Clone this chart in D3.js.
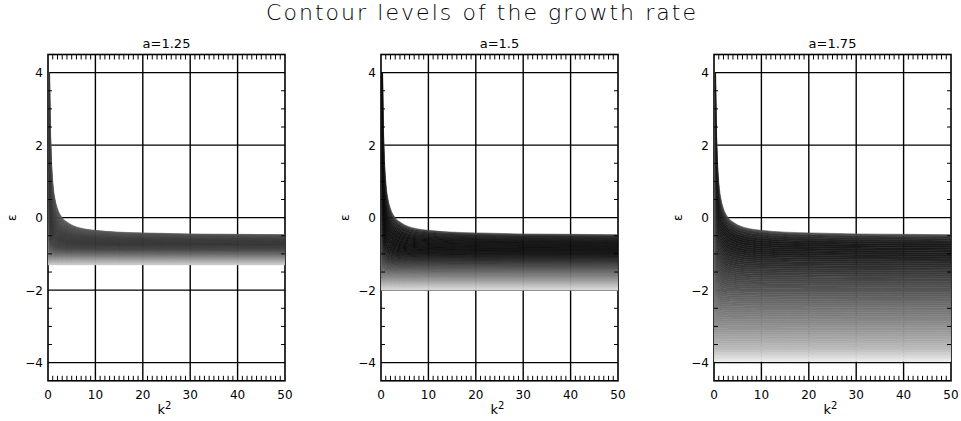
<!DOCTYPE html>
<html><head><meta charset="utf-8">
<script src="https://cdn.jsdelivr.net/npm/d3@7"></script>
<style>
html,body{margin:0;padding:0;background:#fff;}
text{font-family:"DejaVu Sans","Noto Sans",sans-serif;fill:#000;}
</style></head>
<body>
<script>
// ---- data ----
const chartTitle = "Contour levels of the growth rate";
const panelTitles = ["a=1.25", "a=1.5", "a=1.75"];
// upper boundary of the unstable region (epsilon vs k^2), same in all panels
const k2 = [0, 0.2, 0.3, 0.4, 0.5, 0.6, 0.8, 1, 1.5, 2, 3, 4, 5, 7, 10, 15, 20, 30, 40, 50];
const epsTop = [20, 7, 4.6, 3.4, 2.6, 2.1, 1.4, 1.0, 0.5, 0.25, 0.0, -0.12, -0.2, -0.29, -0.35, -0.4, -0.42, -0.45, -0.46, -0.47];
// lower boundary per panel
const epsBottom = [-1.3, -2.0, -3.97];
// grey level profiles across the band (at large k^2)
const profEps1 = [-0.45, -0.50, -0.62, -0.75, -0.89, -1.03, -1.17, -1.30];
const profGray1 = [112, 82, 62, 56, 72, 112, 160, 205];
const profEps2 = [-0.45, -0.53, -0.67, -0.89, -1.03, -1.22, -1.44, -1.72, -2.0];
const profGray2 = [100, 42, 20, 17, 22, 50, 92, 150, 220];
const profEps3 = [-0.45, -0.56, -0.75, -1.03, -1.44, -2.0, -2.55, -3.1, -3.65, -3.97];
const profGray3 = [100, 48, 26, 30, 54, 86, 118, 150, 190, 236];
const profiles = [[profEps1, profGray1], [profEps2, profGray2], [profEps3, profGray3]];
// axes
const xTicks = [0, 10, 20, 30, 40, 50];
const yTicks = [-4, -2, 0, 2, 4];
const yLabel = "ε";

// ---- layout ----
const W = 961, H = 421;
const panelLeft = [48, 381, 714];
const panelW = 237;
const plotTop = 54.5, plotBottom = 380.8;

const svg = d3.select("body").append("svg").attr("width", W).attr("height", H);
svg.append("rect").attr("width", W).attr("height", H).attr("fill", "#fff");

svg.append("text").attr("x", 481).attr("y", 20).attr("text-anchor", "middle")
  .attr("font-size", 22).attr("font-weight", 200)
  .attr("textLength", 430).attr("lengthAdjust", "spacing")
  .text(chartTitle);

const NB = 70;
const topEnd = epsTop[epsTop.length - 1];

panelTitles.forEach((pt, p) => {
  const x = d3.scaleLinear().domain([0, 50]).range([panelLeft[p], panelLeft[p] + panelW]);
  const y = d3.scaleLinear().domain([-4.5, 4.5]).range([plotBottom, plotTop]);
  const g = svg.append("g");
  const bot = epsBottom[p];
  const grayScale = d3.scaleLinear().domain(profiles[p][0]).range(profiles[p][1]).clamp(true);

  // grid lines
  g.selectAll(".vg").data(xTicks.slice(1, -1)).join("line")
    .attr("x1", d => x(d)).attr("x2", d => x(d)).attr("y1", plotTop).attr("y2", plotBottom)
    .attr("stroke", "#000").attr("stroke-width", 1.4);
  g.selectAll(".hg").data(yTicks).join("line")
    .attr("x1", x(0)).attr("x2", x(50)).attr("y1", d => y(d)).attr("y2", d => y(d))
    .attr("stroke", "#000").attr("stroke-width", 1.4);

  // frame
  g.append("rect").attr("x", x(0)).attr("y", plotTop).attr("width", panelW).attr("height", plotBottom - plotTop)
    .attr("fill", "none").attr("stroke", "#000").attr("stroke-width", 1.6);

  // clip for filled contours
  const cid = "clip" + p;
  svg.append("clipPath").attr("id", cid).append("rect")
    .attr("x", x(0)).attr("y", y(4)).attr("width", panelW).attr("height", y(-4) - y(4));

  const epsAt = (i, s) => bot + (1 - s) * (topEnd - bot) + (epsTop[i] - topEnd) * Math.pow(1 - s, 4);
  const idx = d3.range(k2.length);
  const fillG = g.append("g").attr("clip-path", `url(#${cid})`);
  for (let j = 0; j < NB; j++) {
    const s0 = j / NB, s1 = (j + 1) / NB;
    const sm = (s0 + s1) / 2;
    const gv = Math.round(grayScale(topEnd + sm * (bot - topEnd)));
    const col = d3.rgb(gv, gv, gv).toString();
    const area = d3.area()
      .x(i => x(k2[i]))
      .y0(i => y(epsAt(i, s1)))
      .y1(i => y(epsAt(i, s0)))
      .curve(d3.curveMonotoneX);
    fillG.append("path").attr("d", area(idx)).attr("fill", col)
      .attr("stroke", col).attr("stroke-width", 0.6);
  }

  // minor ticks on x (top & bottom)
  const xMinor = d3.range(1, 50).filter(v => v % 10 !== 0);
  g.selectAll(".xmb").data(xMinor).join("line")
    .attr("x1", d => x(d)).attr("x2", d => x(d)).attr("y1", plotBottom).attr("y2", plotBottom - 5)
    .attr("stroke", "#000").attr("stroke-width", 1);
  g.selectAll(".xmt").data(xMinor).join("line")
    .attr("x1", d => x(d)).attr("x2", d => x(d)).attr("y1", plotTop).attr("y2", plotTop + 5)
    .attr("stroke", "#000").attr("stroke-width", 1);
  // minor ticks on y (left & right)
  const yMinor = d3.range(-4.5, 4.51, 0.5).filter(v => Math.abs(v % 2) > 1e-6 && Math.abs(v) < 4.4);
  g.selectAll(".yml").data(yMinor).join("line")
    .attr("x1", x(0)).attr("x2", x(0) + 4).attr("y1", d => y(d)).attr("y2", d => y(d))
    .attr("stroke", "#000").attr("stroke-width", 1);
  g.selectAll(".ymr").data(yMinor).join("line")
    .attr("x1", x(50)).attr("x2", x(50) - 4).attr("y1", d => y(d)).attr("y2", d => y(d))
    .attr("stroke", "#000").attr("stroke-width", 1);

  // tick labels
  g.selectAll(".xl").data(xTicks).join("text")
    .attr("x", d => x(d)).attr("y", plotBottom + 18).attr("text-anchor", "middle")
    .attr("font-size", 12).text(d => d);
  g.selectAll(".yl").data(yTicks).join("text")
    .attr("x", x(0) - 5).attr("y", d => y(d) + 4.5).attr("text-anchor", "end")
    .attr("font-size", 12).text(d => d < 0 ? "\u2212" + Math.abs(d) : d);

  // titles & axis labels
  g.append("text").attr("x", x(25)).attr("y", 48).attr("text-anchor", "middle")
    .attr("font-size", 13).text(pt);
  const kl = g.append("text").attr("x", x(25) - 2).attr("y", 414).attr("text-anchor", "middle")
    .attr("font-size", 13);
  kl.append("tspan").text("k");
  kl.append("tspan").attr("font-size", 10).attr("dy", -5).text("2");
  g.append("text").attr("transform", `translate(${x(0) - 36},${y(0)}) rotate(-90)`)
    .attr("text-anchor", "middle").attr("dy", "0.35em").attr("font-size", 12).text(yLabel);
});
</script>
</body></html>
